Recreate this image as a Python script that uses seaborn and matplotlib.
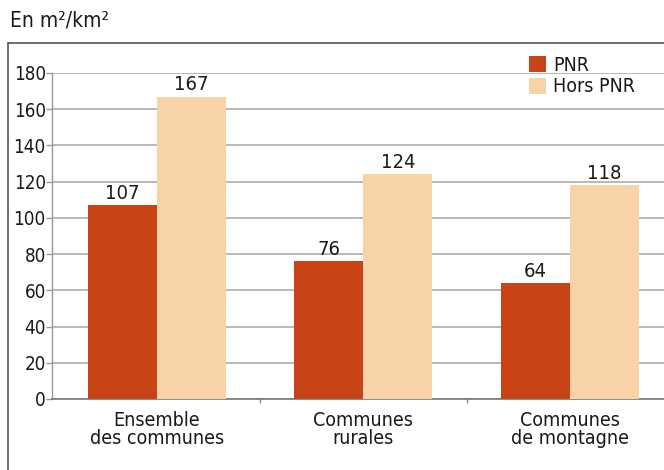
import matplotlib
matplotlib.use("Agg")
import matplotlib.pyplot as plt
import seaborn as sns
import pandas as pd
from matplotlib.lines import Line2D
from matplotlib.patches import Patch

categories = ["Ensemble\ndes communes", "Communes\nrurales", "Communes\nde montagne"]
series_names = ["PNR", "Hors PNR"]
pnr_values = [107, 76, 64]
hors_pnr_values = [167, 124, 118]
y_ticks = [0, 20, 40, 60, 80, 100, 120, 140, 160, 180]

df = pd.DataFrame({
    "categorie": categories * 2,
    "serie": [series_names[0]] * 3 + [series_names[1]] * 3,
    "valeur": pnr_values + hors_pnr_values,
})

palette = {"PNR": "#C84416", "Hors PNR": "#F9D3A8"}

sns.set_theme(style="white")
plt.rcParams["font.family"] = ["DejaVu Sans"]
plt.rcParams["font.stretch"] = "condensed"

W, H = 664, 470
fig = plt.figure(figsize=(W / 100, H / 100), dpi=100)
ax = fig.add_axes([52 / W, 71 / H, (W - 52) / W, 326 / H])

sns.barplot(data=df, x="categorie", y="valeur", hue="serie", palette=palette,
            width=0.668, saturation=1, linewidth=0, ax=ax, legend=False, zorder=3)

for cont in ax.containers:
    ax.bar_label(cont, padding=1.5, fontsize=14.5, color="#1a1a1a")

ax.set_ylim(0, 180)
ax.set_xlim(-0.508, -0.508 + (W - 52) / 206.5)
ax.set_yticks(y_ticks)
ax.set_yticklabels([str(v) for v in y_ticks], fontsize=13.5, color="#1a1a1a")
ax.yaxis.grid(True, color="#a6a6a6", linewidth=1.1, zorder=0)
ax.set_axisbelow(True)
ax.tick_params(axis="y", which="major", left=True, length=4, width=1,
               color="#999999", pad=0.5)
ax.tick_params(axis="x", which="major", bottom=False, labelsize=14,
               labelcolor="#1a1a1a", pad=3)
ax.set_xticks([0.5, 1.5], minor=True)
ax.tick_params(axis="x", which="minor", bottom=True, length=3, width=1,
               color="#888888")
for lbl in ax.get_xticklabels():
    lbl.set_linespacing(0.92)
ax.set_xlabel("")
ax.set_ylabel("")
for side in ["top", "right"]:
    ax.spines[side].set_visible(False)
ax.spines["left"].set_color("#999999")
ax.spines["bottom"].set_color("#777777")
ax.spines["left"].set_linewidth(1)
ax.spines["bottom"].set_linewidth(1.2)

# legend above the top-right of the plotting area
handles = [Patch(facecolor=palette[s], edgecolor="none") for s in series_names]
fig.legend(handles, series_names, loc="upper left",
           bbox_to_anchor=(529 / W, 1 - 56 / H), frameon=False, fontsize=14,
           handlelength=0.88, handleheight=0.88, handletextpad=0.36,
           labelspacing=0.12, borderpad=0, borderaxespad=0,
           labelcolor="#1a1a1a")

# outer frame (left and top edges)
fig.add_artist(Line2D([7.5 / W, 7.5 / W], [0, 1 - 43 / H], transform=fig.transFigure,
                      color="#555555", linewidth=1.2))
fig.add_artist(Line2D([7.5 / W, 1], [1 - 43 / H, 1 - 43 / H], transform=fig.transFigure,
                      color="#555555", linewidth=1.2))

fig.text(10 / W, 1 - 20 / H, "En m²/km²", fontsize=15, color="#1a1a1a",
         ha="left", va="center")

fig.savefig("out.png", dpi=100)
